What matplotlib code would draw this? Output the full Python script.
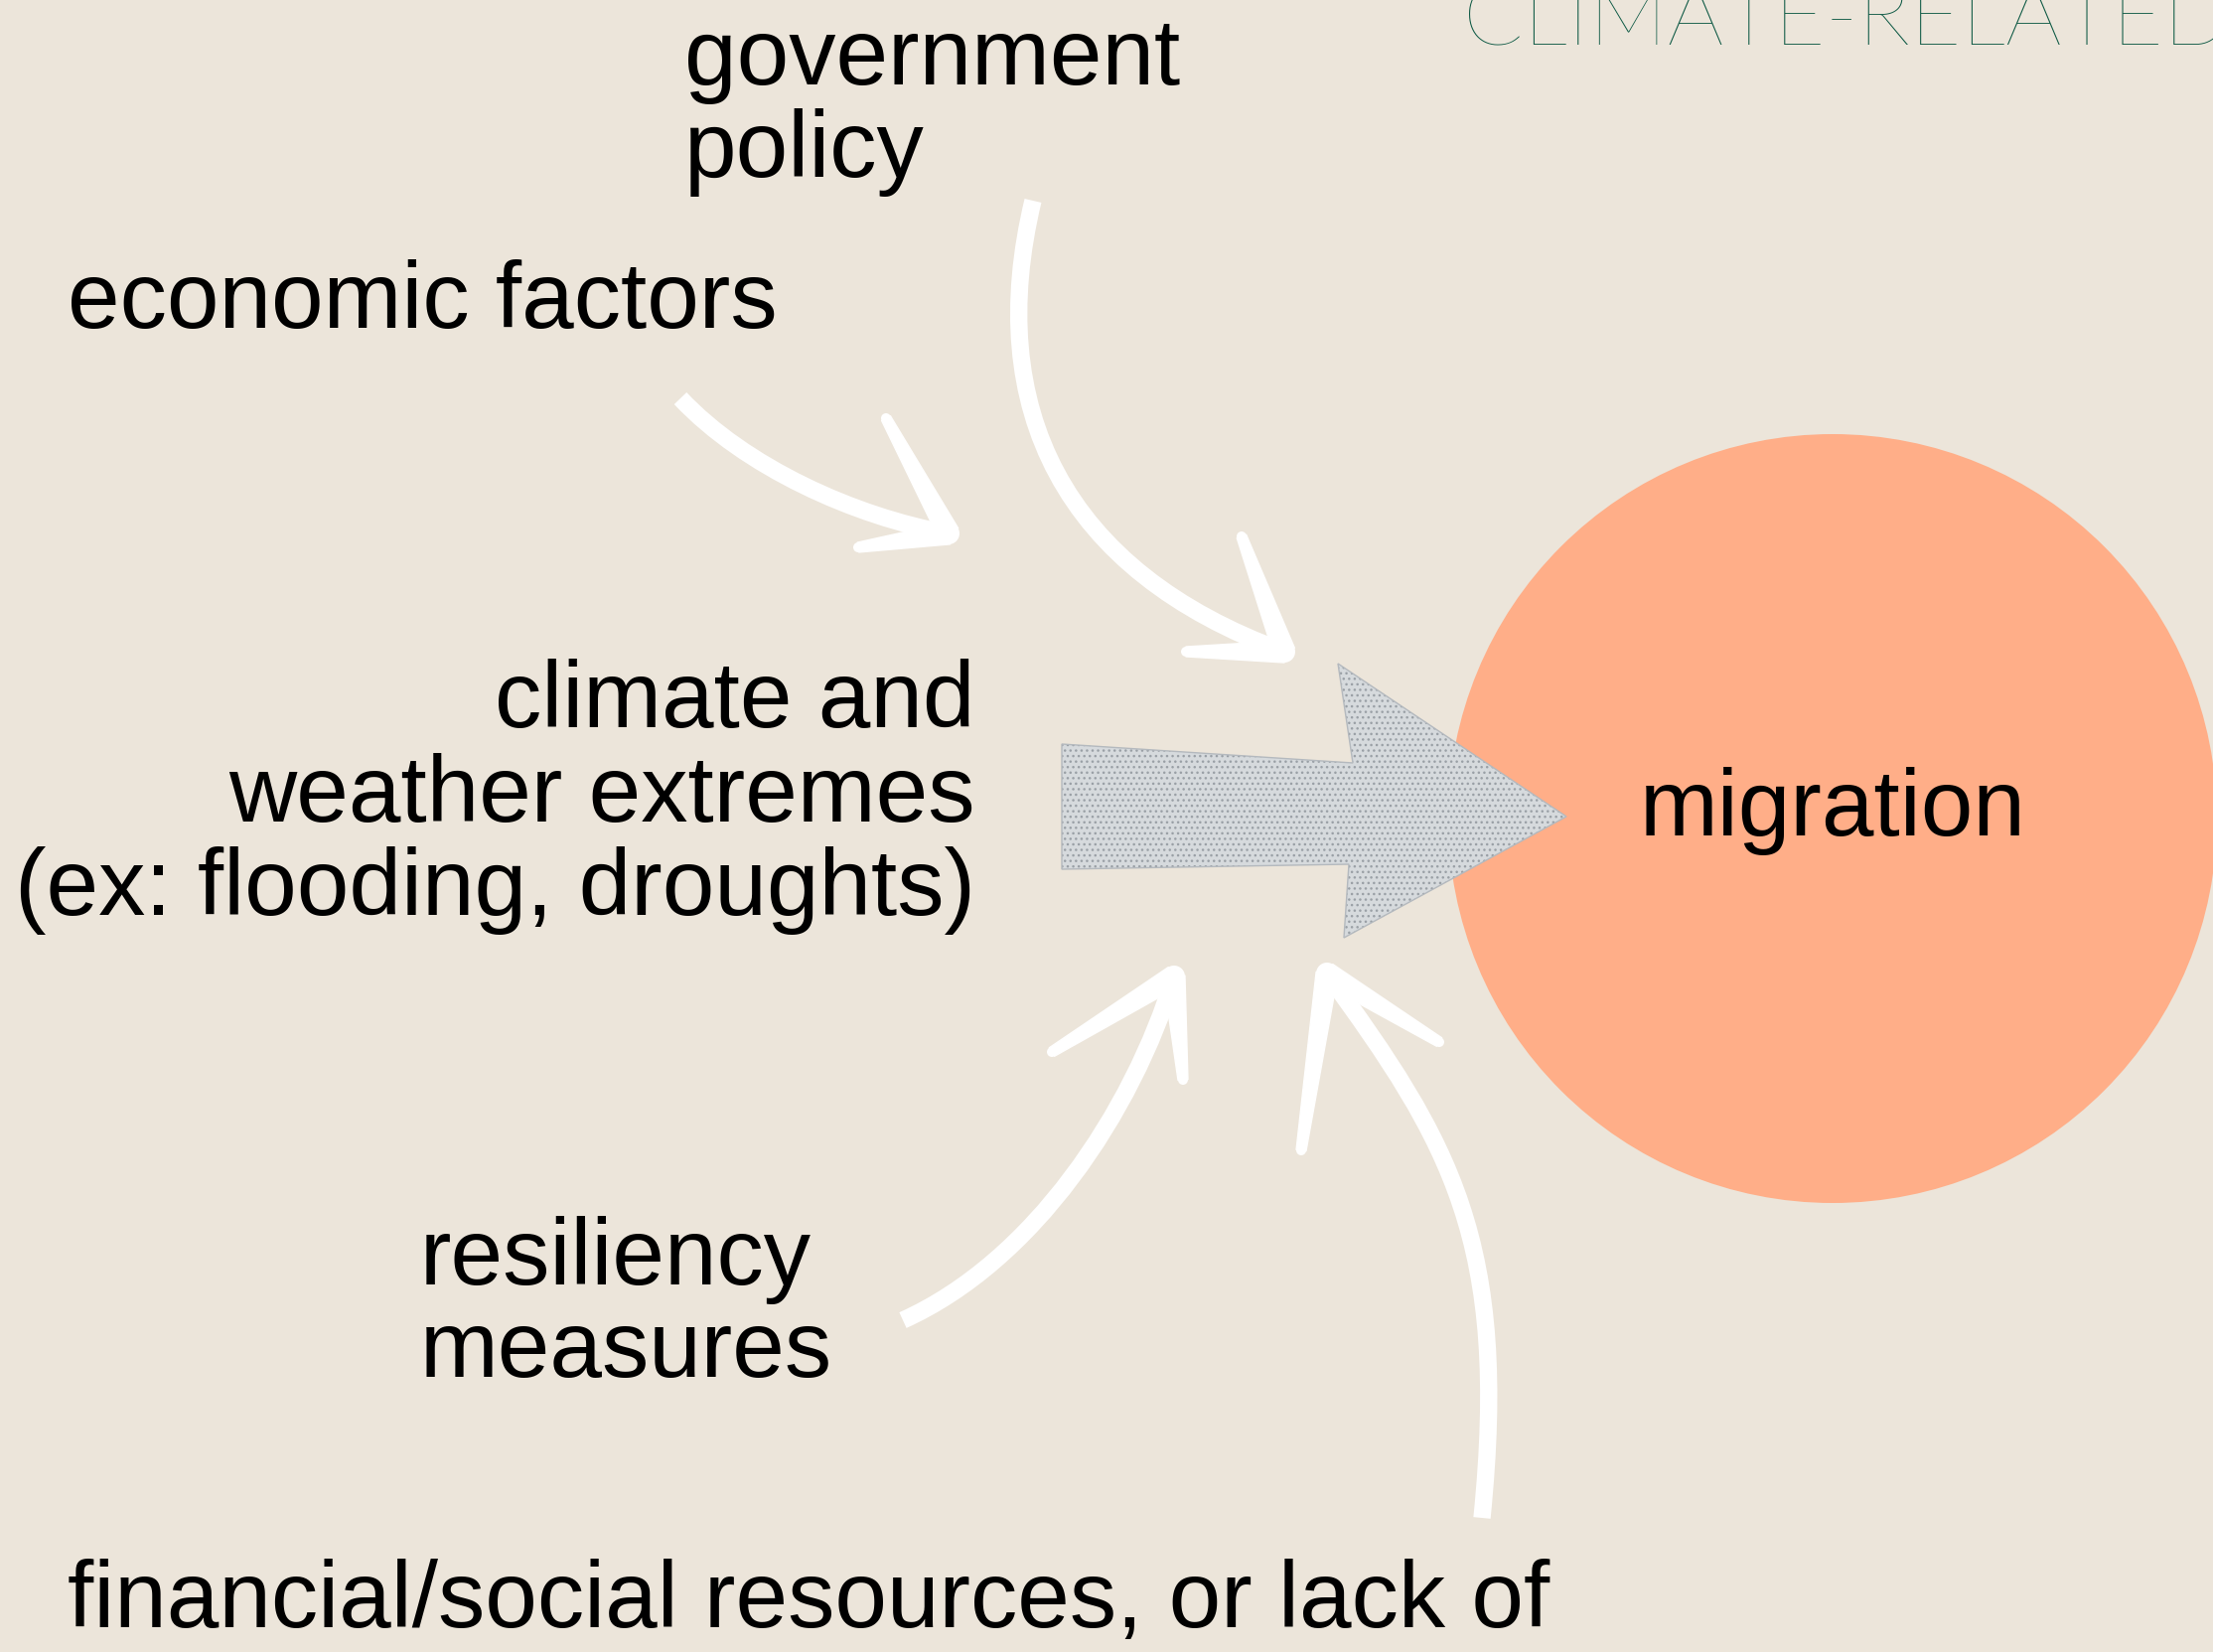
import matplotlib
matplotlib.use("Agg")
import matplotlib.pyplot as plt
import numpy as np
from matplotlib.path import Path
from matplotlib.patches import PathPatch, Circle, Polygon

# ---- content ----
title_text = "CLIMATE-RELATED"
center_label = "migration"
policy_lines = ["government", "policy"]
economic_lines = ["economic factors"]
climate_lines = ["climate and", "weather extremes", "(ex: flooding, droughts)"]
resiliency_lines = ["resiliency", "measures"]
financial_lines = ["financial/social resources, or lack of"]

# ---- geometry (pixel space of the 2228x1663 canvas) ----
W, H = 2228, 1663
circle_center = (1845, 824)
circle_radius = 387
gray_arrow = [(1069, 749), (1362, 768), (1347, 668), (1577, 822),
              (1353, 944), (1358, 870), (1069, 875)]
# cubic Bezier control points for the white hand-drawn arrows
arrow_economic = [(685, 401), (750, 470), (860, 520), (955, 537)]
arrow_policy = [(1040, 202), (990, 410), (1070, 575), (1293, 656)]
arrow_resil = [(909, 1329), (1040, 1270), (1140, 1120), (1182, 983)]
arrow_financial = [(1492, 1528), (1520, 1250), (1460, 1150), (1336, 980)]
barbs_economic = [(892, 421), (864, 551)]
barbs_policy = [(1250, 540), (1194, 656)]
barbs_resil = [(1059, 1059), (1191, 1087)]
barbs_financial = [(1310, 1158), (1449, 1049)]

BG = "#ece5da"
SALMON = "#ffae88"
GREEN = "#0c5843"
FONT = ["Liberation Sans", "DejaVu Sans"]
FS = 68
LW = 12.5

fig = plt.figure(figsize=(W / 100, H / 100), dpi=100, facecolor=BG)
ax = fig.add_axes([0, 0, 1, 1])
ax.set_xlim(0, W)
ax.set_ylim(H, 0)
ax.axis("off")
ax.set_facecolor(BG)

# circle
ax.add_patch(Circle(circle_center, circle_radius, facecolor=SALMON, edgecolor="none", zorder=1))

# gray arrow
ax.add_patch(Polygon(gray_arrow, closed=True, facecolor="#d6dadd", edgecolor="#9aa0a6",
                     linewidth=0, hatch="...", zorder=3))
ax.add_patch(Polygon(gray_arrow, closed=True, facecolor="none", edgecolor="#b4b9be",
                     linewidth=1, zorder=3))

# white arrows
def barb(tip, end, w_tip=11, w_end=5):
    tip = np.asarray(tip, float)
    end = np.asarray(end, float)
    d = end - tip
    d /= np.hypot(*d)
    p = np.array([-d[1], d[0]])
    pts = [tip + p * w_tip, end + p * w_end, end - p * w_end, tip - p * w_tip]
    ax.add_patch(Polygon(pts, closed=True, facecolor="white", edgecolor="white",
                         linewidth=1, joinstyle="round", zorder=4))
    ax.add_patch(Circle(tuple(end), w_end, facecolor="white", edgecolor="none", zorder=4))


def draw_arrow(ctrl, barbs):
    codes = [Path.MOVETO, Path.CURVE4, Path.CURVE4, Path.CURVE4]
    ax.add_patch(PathPatch(Path(ctrl, codes), facecolor="none", edgecolor="white",
                           linewidth=LW, capstyle="butt", joinstyle="round", zorder=4))
    tip = ctrl[-1]
    ax.add_patch(Circle(tip, 11, facecolor="white", edgecolor="none", zorder=4))
    for b in barbs:
        barb(tip, b)

draw_arrow(arrow_economic, barbs_economic)
draw_arrow(arrow_policy, barbs_policy)
draw_arrow(arrow_resil, barbs_resil)
draw_arrow(arrow_financial, barbs_financial)

# texts
def lines(txts, x, y0, dy, ha="left"):
    for i, t in enumerate(txts):
        ax.text(x, y0 + i * dy, t, ha=ha, va="baseline", fontsize=FS, family=FONT,
                color="black", zorder=5)

lines(policy_lines, 689, 85, 93)
lines(economic_lines, 68, 330, 93)
lines(climate_lines, 982, 732, 94.5, ha="right")
lines(resiliency_lines, 423, 1293, 93)
lines(financial_lines, 68, 1638, 93)
ax.text(circle_center[0], 841, center_label, ha="center", va="baseline", fontsize=FS,
        family=FONT, color="black", zorder=5)

ax.text(1473, 46, title_text, ha="left", va="baseline", fontsize=64,
        family=["Lato", "DejaVu Sans"], fontweight="light", color=GREEN, zorder=5)

fig.savefig("out.png", dpi=100, facecolor=BG)
